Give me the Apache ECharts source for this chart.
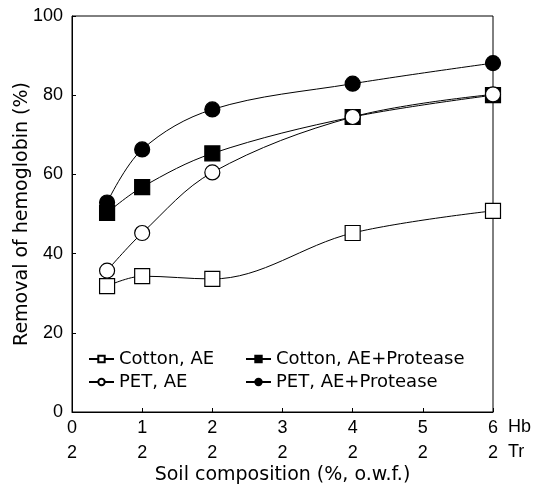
<!DOCTYPE html>
<html><head><meta charset="utf-8">
<script src="https://cdn.jsdelivr.net/npm/echarts@6/dist/echarts.min.js"></script>
<style>html,body{margin:0;padding:0;background:#fff}#c{width:546px;height:486px}</style>
</head><body><div id="c"></div>
<script>
const xValues = [0.5, 1, 2, 4, 6];
const cottonAE = [31.8, 34.3, 33.6, 45.2, 50.8];
const cottonAEProtease = [50.3, 56.8, 65.3, 74.5, 80];
const petAE = [35.7, 45.2, 60.5, 74.5, 80.2];
const petAEProtease = [52.9, 66.3, 76.4, 82.9, 88.1];
const seriesNames = ['Cotton, AE', 'Cotton, AE+Protease', 'PET, AE', 'PET, AE+Protease'];
const hbTicks = ['0', '1', '2', '3', '4', '5', '6'];
const trTicks = ['2', '2', '2', '2', '2', '2', '2'];

const numFont = 'Liberation Sans, Arial, sans-serif';
const txtFont = 'DejaVu Sans, sans-serif';
const chart = echarts.init(document.getElementById('c'));
function pairs(arr){ return xValues.map((x,i)=>[x, arr[i]]); }
function mk(name, data, symbol, filled){
  return {
    name, type:'line', data:pairs(data), smooth:0.35,
    symbol, symbolSize: 15,
    showSymbol:true,
    lineStyle:{color:'#000', width:1},
    itemStyle:{color: filled?'#000':'#fff', borderColor:'#000', borderWidth:1.2},
    emphasis:{disabled:true}, z: filled?3:4
  };
}
const legendCommon = {orient:'vertical', top:350, itemGap:5, padding:0,
  itemWidth:25, itemHeight:8,
  textStyle:{color:'#000', fontSize:18, fontFamily:txtFont}};
chart.setOption({
  animation:false,
  backgroundColor:'#fff',
  grid:{left:72, right:53, top:16, bottom:74, show:true, borderColor:'#000', borderWidth:1, outerBoundsMode:'none', containLabel:false},
  xAxis:{type:'value', min:0, max:6, interval:1,
    axisLine:{lineStyle:{color:'#000'}},
    axisTick:{inside:true, length:4, lineStyle:{color:'#000'}},
    splitLine:{show:false},
    axisLabel:{color:'#000', fontSize:18, fontFamily:numFont, lineHeight:25, margin:4,
      formatter:(v)=>{const i=Math.round(v); return hbTicks[i]+'\n'+trTicks[i];}},
    name:'Soil composition (%, o.w.f.)', nameLocation:'middle', nameGap:54, nameMoveOverlap:false,
    nameTextStyle:{color:'#000', fontSize:19, fontFamily:txtFont}
  },
  yAxis:{type:'value', min:0, max:100, interval:20,
    axisLine:{lineStyle:{color:'#000'}},
    axisTick:{inside:true, length:4, lineStyle:{color:'#000'}},
    splitLine:{show:false},
    axisLabel:{color:'#000', fontSize:18, fontFamily:numFont, margin:9},
    name:'Removal of hemoglobin (%)', nameLocation:'middle', nameGap:40, nameMoveOverlap:false,
    nameTextStyle:{color:'#000', fontSize:19, fontFamily:txtFont}
  },
  legend:[
    Object.assign({data:[seriesNames[0], seriesNames[2]], left:88}, legendCommon),
    Object.assign({data:[seriesNames[1], seriesNames[3]], left:245}, legendCommon)
  ],
  graphic:[
    {type:'text', left:508, top:418, style:{text:'Hb', fill:'#000', font:'18px '+numFont}},
    {type:'text', left:508, top:443, style:{text:'Tr', fill:'#000', font:'18px '+numFont}}
  ],
  series:[
    mk(seriesNames[0], cottonAE, 'rect', false),
    mk(seriesNames[1], cottonAEProtease, 'rect', true),
    mk(seriesNames[2], petAE, 'circle', false),
    mk(seriesNames[3], petAEProtease, 'circle', true)
  ]
});
</script></body></html>
